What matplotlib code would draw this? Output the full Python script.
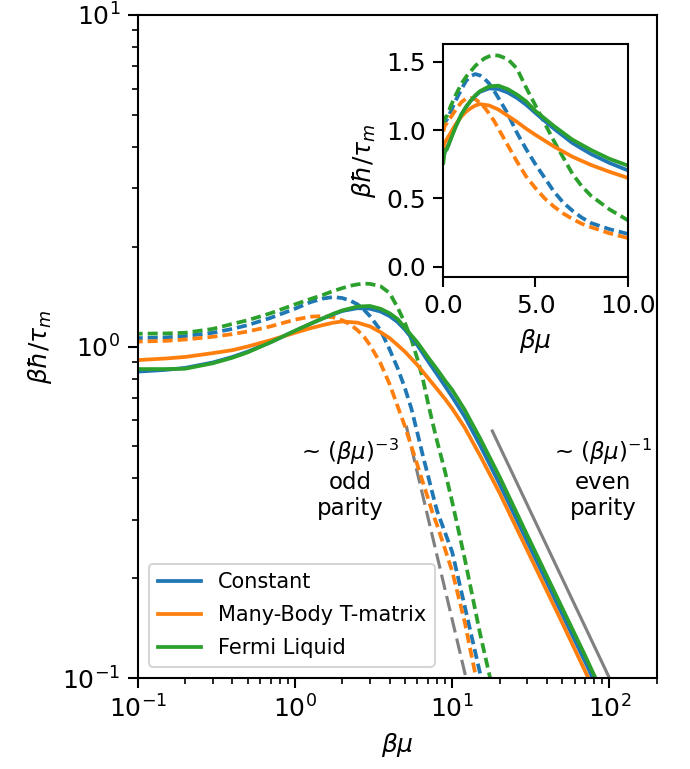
import numpy as np
import matplotlib
matplotlib.use("Agg")
import matplotlib.pyplot as plt
from matplotlib.ticker import FormatStrFormatter

# ---------------- data ----------------
x_odd = [0.02, 0.1, 0.15, 0.2, 0.3, 0.4, 0.5, 0.7, 1.0, 1.25, 1.5, 1.75, 2.0, 2.25,
         2.5, 2.75, 3.0, 3.5, 4.0, 4.5, 5.0, 5.5, 6.0, 6.5, 7.0, 7.5, 8.0, 9.0,
         10, 12, 15, 20]
const_odd = [1.10, 1.06, 1.065, 1.075, 1.10, 1.13, 1.16, 1.22, 1.30, 1.36, 1.395, 1.41,
             1.40, 1.375, 1.34, 1.29, 1.235, 1.12, 0.98, 0.86, 0.75, 0.65, 0.55, 0.47,
             0.41, 0.36, 0.32, 0.275, 0.24, 0.165, 0.104, 0.058]
tmat_odd = [0.99, 1.035, 1.04, 1.05, 1.07, 1.09, 1.11, 1.15, 1.205, 1.23, 1.235, 1.225,
            1.20, 1.165, 1.12, 1.07, 1.01, 0.89, 0.77, 0.66, 0.575, 0.50, 0.44, 0.39,
            0.35, 0.315, 0.29, 0.245, 0.21, 0.148, 0.088, 0.05]
fermi_odd = [1.05, 1.093, 1.095, 1.10, 1.13, 1.17, 1.20, 1.26, 1.34, 1.39, 1.43, 1.47,
             1.50, 1.525, 1.54, 1.548, 1.545, 1.52, 1.45, 1.31, 1.18, 1.05, 0.92, 0.80,
             0.68, 0.59, 0.52, 0.42, 0.34, 0.23, 0.137, 0.075]

x_even = [0.02, 0.1, 0.15, 0.2, 0.3, 0.4, 0.5, 0.7, 1.0, 1.25, 1.5, 1.75, 2.0, 2.5,
          3.0, 3.5, 4.0, 4.5, 5.0, 6.0, 7.0, 8.0, 9.0, 10, 12, 15, 20, 30, 50, 70,
          100, 200]
const_even = [0.80, 0.84, 0.85, 0.862, 0.895, 0.93, 0.965, 1.03, 1.115, 1.17, 1.215,
              1.25, 1.28, 1.305, 1.30, 1.275, 1.235, 1.185, 1.125, 1.01, 0.905, 0.825,
              0.76, 0.705, 0.615, 0.505, 0.385, 0.258, 0.156, 0.112, 0.078, 0.039]
tmat_even = [0.87, 0.91, 0.92, 0.93, 0.955, 0.975, 1.0, 1.045, 1.10, 1.135, 1.16, 1.18,
             1.19, 1.18, 1.15, 1.105, 1.06, 1.01, 0.965, 0.88, 0.805, 0.745, 0.695,
             0.65, 0.57, 0.47, 0.362, 0.243, 0.147, 0.105, 0.074, 0.037]
fermi_even = [0.76, 0.855, 0.855, 0.857, 0.89, 0.925, 0.96, 1.03, 1.115, 1.17, 1.215,
              1.255, 1.285, 1.32, 1.325, 1.30, 1.26, 1.21, 1.14, 1.03, 0.93, 0.855,
              0.79, 0.74, 0.645, 0.53, 0.405, 0.27, 0.163, 0.117, 0.081, 0.0405]

labels = ["Constant", "Many-Body T-matrix", "Fermi Liquid"]
colors = ["C0", "C1", "C2"]

# guide lines
guide_odd_x = [5.1, 12.2]
guide_odd_y = [0.577, 0.1008]
guide_even_x = [18.0, 100.0]
guide_even_y = [0.556, 0.1]

plt.rcParams.update({
    "xtick.major.size": 4.8, "ytick.major.size": 4.8,
    "xtick.minor.size": 3.0, "ytick.minor.size": 3.0,
    "xtick.major.width": 1.0, "ytick.major.width": 1.0,
    "xtick.minor.width": 0.8, "ytick.minor.width": 0.8,
    "axes.linewidth": 1.0,
    "xtick.labelsize": 12, "ytick.labelsize": 12,
    "axes.labelsize": 12,
})

LW = 1.8
DASH = (2.67, 1.33)

# ---------------- figure ----------------
fig = plt.figure(figsize=(4.6, 769 / 150), dpi=150)
ax = fig.add_axes([0.1996, 0.1183, 0.7522, 0.8622])

odd = [const_odd, tmat_odd, fermi_odd]
even = [const_even, tmat_even, fermi_even]

ax.plot(guide_odd_x, guide_odd_y, color="gray", lw=1.5, dashes=(5, 2))
ax.plot(guide_even_x, guide_even_y, color="gray", lw=1.5)
for yo, c in zip(odd, colors):
    ax.plot(x_odd, yo, color=c, lw=LW, dashes=DASH)
for ye, c, lab in zip(even, colors, labels):
    ax.plot(x_even, ye, "-", color=c, lw=LW, label=lab)

ax.set_xscale("log")
ax.set_yscale("log")
ax.set_xlim(0.1, 200)
ax.set_ylim(0.1, 10)
ax.set_xlabel(r"$\beta\mu$")
ax.set_ylabel(r"$\beta\hbar/\tau_m$")
ax.legend(loc="lower left", fontsize=10, labelspacing=0.62, handlelength=2.1,
          borderaxespad=0.55)

ax.text(2.25, 0.40, "~ $(\\beta\\mu)^{-3}$\nodd\nparity", ha="center", va="center",
        multialignment="center", fontsize=11)
ax.text(91, 0.40, "~ $(\\beta\\mu)^{-1}$\neven\nparity", ha="center", va="center",
        multialignment="center", fontsize=11)

# ---------------- inset ----------------
ins = fig.add_axes([0.642, 0.6398, 0.268, 0.303])
for yo, c in zip(odd, colors):
    ins.plot(x_odd, yo, color=c, lw=LW, dashes=DASH)
for ye, c in zip(even, colors):
    ins.plot(x_even, ye, "-", color=c, lw=LW)
ins.set_xlim(0, 10)
ins.set_ylim(-0.075, 1.63)
ins.set_xticks([0, 5, 10])
ins.xaxis.set_major_formatter(FormatStrFormatter("%.1f"))
ins.set_yticks([0.0, 0.5, 1.0, 1.5])
ins.set_xlabel(r"$\beta\mu$")
ins.set_ylabel(r"$\beta\hbar/\tau_m$")

fig.savefig("out.png", dpi=150)
